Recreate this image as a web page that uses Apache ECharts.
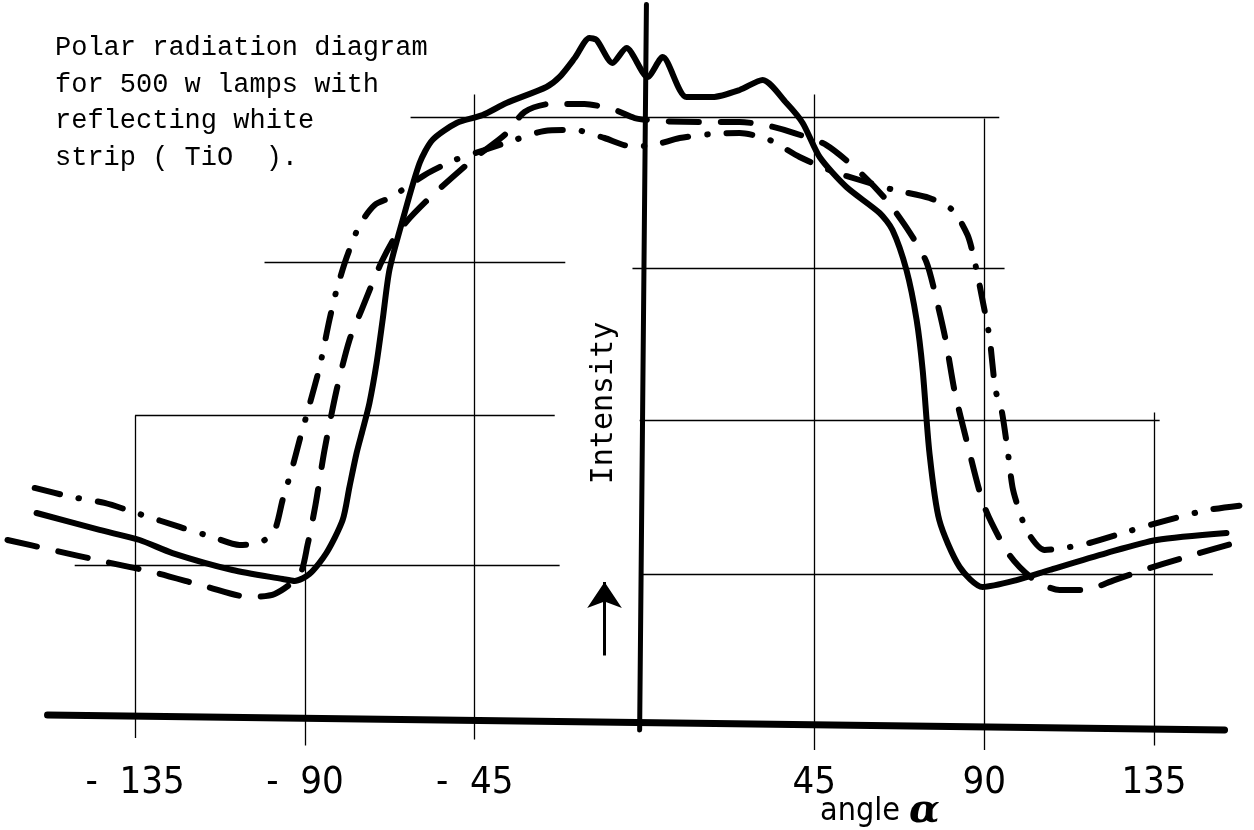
<!DOCTYPE html>
<html>
<head>
<meta charset="utf-8">
<script src="https://cdn.jsdelivr.net/npm/echarts@6/dist/echarts.min.js"></script>
<style>html,body{margin:0;padding:0;background:#fff;}#chart{width:1254px;height:830px;}</style>
</head>
<body>
<div id="chart"></div>
<script>
// ---- data (angle in degrees, relative intensity) ----
const angleTicks = [-135, -90, -45, 45, 90, 135];
const titleLines = ['Polar radiation diagram', 'for 500 w lamps with', 'reflecting white', 'strip ( TiO  ).'];
const yLabel = 'Intensity';
const xLabel = 'angle';

const solidCurve = [
  [-161.1,1.38],[-144.4,1.267],[-133.8,1.2],[-125.1,1.113],[-109.2,1.0],[-95.9,0.94],[-92.7,0.927],
  [-88.8,0.973],[-84.3,1.113],[-80.0,1.333],[-78.2,1.553],[-76.3,1.78],[-74.7,1.933],[-72.9,2.113],
  [-71.0,2.38],[-69.4,2.667],[-67.6,3.0],[-64.1,3.333],[-59.6,3.713],[-56.2,3.867],[-49.8,3.98],
  [-42.9,4.033],[-36.6,4.113],[-26.0,4.22],[-22.5,4.287],[-18.5,4.413],[-14.6,4.547],[-12.7,4.533],
  [-8.5,4.38],[-4.8,4.48],[0.8,4.287],[4.8,4.42],[11.1,4.153],[18.0,4.153],[25.2,4.2],[31.3,4.267],
  [37.6,4.113],[41.9,3.98],[46.4,3.753],[53.5,3.553],[62.3,3.38],[65.7,3.267],[69.4,3.0],[72.1,2.667],
  [73.7,2.333],[75.5,1.78],[78.1,1.333],[83.5,1.02],[89.6,0.887],[98.6,0.933],[107.3,1.0],[122.4,1.113],
  [135.7,1.2],[154.2,1.247]
];
const dashedCurve = [
  [-168.8,1.2],[-156.9,1.133],[-142.6,1.053],[-129.3,0.98],[-115.8,0.887],[-104.7,0.82],[-98.0,0.84],
  [-91.4,0.967],[-89.3,1.167],[-87.2,1.433],[-84.8,1.8],[-81.6,2.2],[-78.2,2.533],[-75.0,2.733],
  [-69.7,3.053],[-64.9,3.267],[-57.5,3.467],[-45.0,3.747],[-37.1,3.9],[-31.8,4.053],[-25.2,4.107],
  [-15.9,4.107],[-7.9,4.067],[-2.6,4.013],[4.0,3.993],[14.6,3.987],[25.2,3.987],[33.1,3.96],[39.7,3.913],
  [48.2,3.833],[57.0,3.653],[64.1,3.467],[70.2,3.253],[74.7,3.053],[77.4,2.8],[79.8,2.533],[82.1,2.2],
  [85.3,1.867],[90.1,1.42],[96.7,1.1],[103.3,0.933],[110.0,0.867],[116.6,0.867],[124.5,0.933],
  [133.8,1.013],[144.4,1.093],[159.0,1.2]
];
const dashDotCurve = [
  [-161.6,1.547],[-151.8,1.487],[-143.1,1.447],[-133.8,1.373],[-123.2,1.287],[-114.5,1.22],[-107.3,1.167],
  [-101.5,1.187],[-98.0,1.267],[-95.9,1.467],[-93.5,1.667],[-91.4,1.867],[-88.8,2.1],[-86.1,2.353],
  [-83.5,2.667],[-81.6,2.867],[-79.0,3.08],[-75.5,3.3],[-71.5,3.433],[-67.0,3.487],[-58.3,3.633],
  [-50.3,3.733],[-42.4,3.8],[-34.4,3.867],[-26.5,3.927],[-18.5,3.933],[-10.6,3.88],[-4.0,3.827],
  [0.8,3.827],[9.3,3.88],[18.0,3.907],[25.2,3.913],[33.1,3.867],[41.1,3.753],[50.3,3.653],[57.0,3.6],
  [66.2,3.533],[75.5,3.48],[81.6,3.4],[85.6,3.233],[87.4,3.067],[89.3,2.833],[91.4,2.553],[93.0,2.2],
  [94.6,2.067],[96.2,1.8],[97.5,1.553],[98.8,1.433],[101.5,1.253],[106.0,1.133],[112.6,1.153],
  [117.9,1.18],[128.5,1.26],[138.6,1.333],[149.2,1.4],[159.0,1.433]
];
// reference grid segments drawn on the sheet
const gridVertical = [ // [angle, fromIntensity, toIntensity]
  [-135, 2.03, -0.12], [-90, 1.03, -0.17], [-45, 4.17, -0.13],
  [45, 4.17, -0.2], [90, 4.01, -0.2], [135, 2.05, -0.17]
];
const gridHorizontal = [ // [intensity, fromAngle, toAngle]
  [4.02, -62, 94], [3.05, -100.7, -21], [3.01, -3.2, 95.4],
  [2.03, -135, -23.8], [2.0, -1.3, 136.5], [1.03, -151, -22.5], [0.97, -1.3, 150.6]
];
const axisX = [[-158.2, 0.033], [153.7, -0.067]];
const axisY = [[0.5, 4.77], [-1.3, -0.067]];
const upArrow = [[-10.6, 0.43], [-10.6, 0.92]];

// ---- chart ----
const chart = echarts.init(document.getElementById('chart'), null, {renderer: 'canvas'});
const gridLines = [];
gridVertical.forEach(v => gridLines.push({coords: [[v[0], v[1]], [v[0], v[2]]]}));
gridHorizontal.forEach(h => gridLines.push({coords: [[h[1], h[0]], [h[2], h[0]]]}));

const tickFont = '"Liberation Sans Narrow", "DejaVu Sans Condensed", "Liberation Sans", sans-serif';

chart.setOption({
  animation: false,
  backgroundColor: '#ffffff',
  grid: {left: 3, right: 0, top: 0, height: 720, containLabel: false},
  xAxis: {
    type: 'value', min: -170, max: 161.5,
    axisLine: {show: false}, axisTick: {show: false}, splitLine: {show: false},
    axisLabel: {
      customValues: angleTicks, margin: 44,
      color: '#000', fontFamily: tickFont, fontSize: 38,
      formatter: v => (v < 0 ? '-  ' + Math.abs(v) : String(v))
    }
  },
  yAxis: {
    type: 'value', min: 0, max: 4.8,
    axisLine: {show: false}, axisTick: {show: false}, splitLine: {show: false}, axisLabel: {show: false}
  },
  series: [
    {type: 'lines', coordinateSystem: 'cartesian2d', clip: false, silent: true, z: 1,
     lineStyle: {color: '#000', width: 1.3, opacity: 1}, data: gridLines},
    {type: 'lines', coordinateSystem: 'cartesian2d', clip: false, silent: true, z: 2,
     lineStyle: {color: '#000', width: 7, opacity: 1, cap: 'round'},
     data: [{coords: axisX}, {coords: axisY, lineStyle: {width: 5}}]},
    {type: 'lines', coordinateSystem: 'cartesian2d', clip: false, silent: true, z: 2,
     symbol: ['none', 'arrow'], symbolSize: [12, 26],
     lineStyle: {color: '#000', width: 3, opacity: 1}, data: [{coords: upArrow}]},
    {type: 'line', data: solidCurve, smooth: 0.25, showSymbol: false, z: 3,
     lineStyle: {color: '#000', width: 6, cap: 'round', join: 'round'}},
    {type: 'line', data: dashedCurve, smooth: 0.25, showSymbol: false, z: 3,
     lineStyle: {color: '#000', width: 6, type: [30, 22], cap: 'round', join: 'round'}},
    {type: 'line', data: dashDotCurve, smooth: 0.25, showSymbol: false, z: 3,
     lineStyle: {color: '#000', width: 6, type: [26, 19, 0.5, 19], cap: 'round', join: 'round'}}
  ],
  graphic: [
    {type: 'text', left: 55, top: 30, z: 10, silent: true,
     style: {text: titleLines.join('\n'), font: '27px "Liberation Mono", "DejaVu Sans Mono", monospace',
             lineHeight: 36.5, fill: '#000'}},
    {type: 'text', x: 604, y: 403, rotation: Math.PI / 2, z: 10, silent: true,
     style: {text: yLabel, font: '30px "DejaVu Sans Mono", "Liberation Mono", monospace',
             fill: '#000', align: 'center', verticalAlign: 'middle'}},
    {type: 'text', x: 820, y: 812, z: 10, silent: true,
     style: {text: '{a|' + xLabel + ' }{b|α}', verticalAlign: 'middle', fill: '#000',
             rich: {a: {fontFamily: tickFont, fontSize: 32, fill: '#000'},
                    b: {fontFamily: '"DejaVu Serif", serif', fontSize: 40, fontWeight: 'bold', fontStyle: 'italic', fill: '#000'}}}}
  ]
});
</script>
</body>
</html>
